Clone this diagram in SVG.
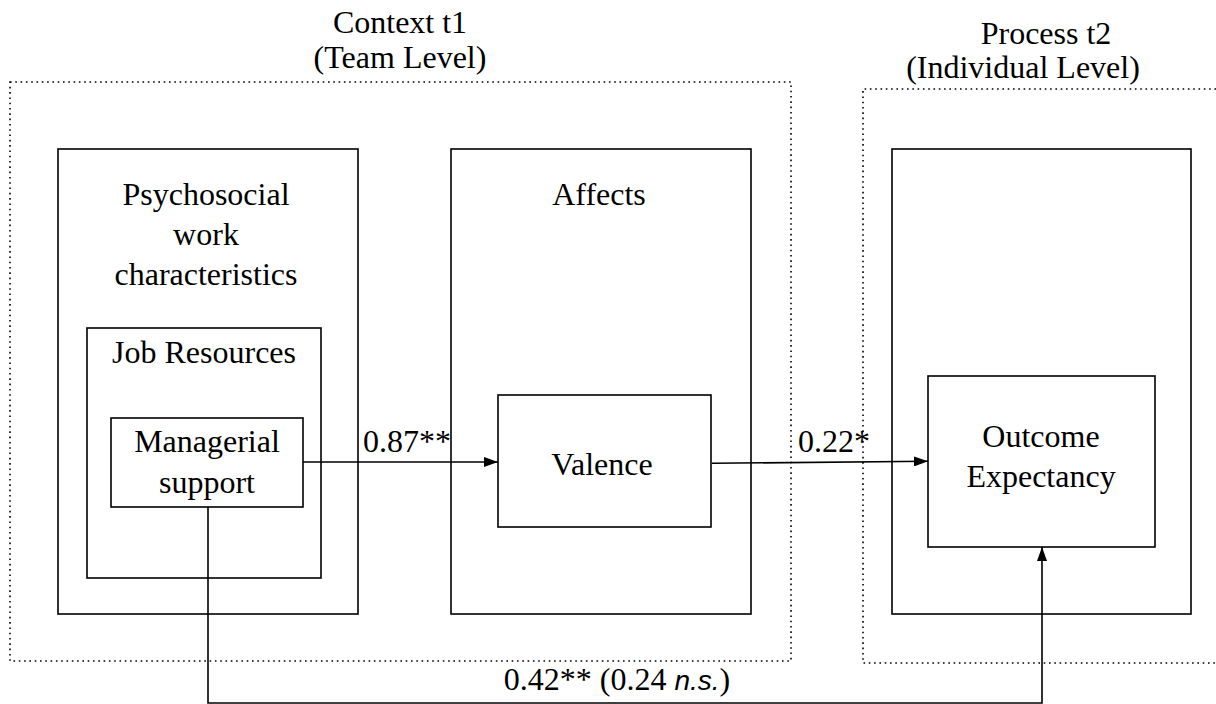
<svg xmlns="http://www.w3.org/2000/svg" width="1216" height="704" viewBox="0 0 1216 704">
<style>
.t{font-family:"Liberation Serif","Times New Roman",serif;font-size:32px;fill:#000;text-anchor:middle}
.box{fill:none;stroke:#000;stroke-width:1.6}
.dot{fill:none;stroke:#000;stroke-width:1.6;stroke-dasharray:1.6 3.7}
.ln{fill:none;stroke:#000;stroke-width:1.6}
.ns{font-family:"Liberation Sans",Arial,sans-serif;font-style:italic}
</style>
<defs>
<marker id="ah" markerWidth="14" markerHeight="10" refX="14" refY="5" orient="auto" markerUnits="userSpaceOnUse">
<path d="M0,0 L14,5 L0,10 Z" fill="#000"/>
</marker>
</defs>
<rect width="1216" height="704" fill="#fff"/>
<g id="context">
<path class="dot" d="M10,82 H791 V661 H10 Z"/>
<text class="t" x="400" y="33">Context t1</text>
<text class="t" x="400" y="68">(Team Level)</text>
</g>
<g id="process">
<path class="dot" d="M1216,89 H863 V663 H1216"/>
<text class="t" x="1046" y="44">Process t2</text>
<text class="t" x="1023" y="78">(Individual Level)</text>
</g>
<g id="psychosocial">
<rect class="box" x="58" y="149" width="300" height="465"/>
<text class="t" x="206" y="205">Psychosocial</text>
<text class="t" x="206" y="245">work</text>
<text class="t" x="206" y="285">characteristics</text>
</g>
<g id="job-resources">
<rect class="box" x="87" y="328" width="234" height="250"/>
<text class="t" x="204" y="363">Job Resources</text>
</g>
<g id="managerial-support">
<rect class="box" x="111" y="418" width="192" height="89"/>
<text class="t" x="207" y="452">Managerial</text>
<text class="t" x="207" y="493">support</text>
</g>
<g id="affects">
<rect class="box" x="451" y="149" width="300" height="465"/>
<text class="t" x="599" y="205">Affects</text>
</g>
<g id="valence">
<rect class="box" x="498" y="395" width="213" height="132"/>
<text class="t" x="602" y="475">Valence</text>
</g>
<g id="process-box">
<rect class="box" x="892" y="149" width="299" height="465"/>
</g>
<g id="outcome-expectancy">
<rect class="box" x="928" y="376" width="227" height="171"/>
<text class="t" x="1041" y="447">Outcome</text>
<text class="t" x="1041" y="487">Expectancy</text>
</g>
<g id="connectors">
<line class="ln" x1="303" y1="462" x2="498" y2="462" marker-end="url(#ah)"/>
<line class="ln" x1="712" y1="463.3" x2="928" y2="461.3" marker-end="url(#ah)"/>
<path class="ln" d="M208,507 V703 H1042 V547" marker-end="url(#ah)"/>
<text class="t" x="407" y="452">0.87**</text>
<text class="t" x="834" y="452">0.22*</text>
<text class="t" x="617" y="690">0.42** (0.24 <tspan class="ns" font-size="28">n.s.</tspan>)</text>
</g>
</svg>
